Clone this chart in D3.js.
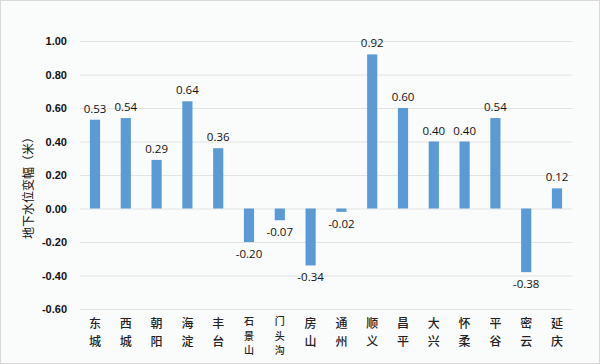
<!DOCTYPE html>
<html><head><meta charset="utf-8">
<script src="https://cdn.jsdelivr.net/npm/d3@7"></script>
<style>
html,body{margin:0;padding:0;background:#fff;}
svg{display:block;}
</style></head>
<body>
<svg id="c" width="600" height="364"></svg>
<script>
const categories = ["东城","西城","朝阳","海淀","丰台","石景山","门头沟","房山","通州","顺义","昌平","大兴","怀柔","平谷","密云","延庆"];
const values = [0.53,0.54,0.29,0.64,0.36,-0.20,-0.07,-0.34,-0.02,0.92,0.60,0.40,0.40,0.54,-0.38,0.12];
const yTicks = [-0.6,-0.4,-0.2,0,0.2,0.4,0.6,0.8,1.0];
const yTitle = "地下水位变幅（米）";

const fmt = d => (Math.round(d*100)/100).toFixed(2);

const svg = d3.select("#c");
svg.append("rect").attr("x",0.5).attr("y",0.5).attr("width",599).attr("height",363)
  .attr("fill","#fafbfb").attr("stroke","#d9d9d9");

const x = d3.scaleBand().domain(categories).range([79.6,572.4]).paddingInner(0.67).paddingOuter(0.335);
const y = d3.scaleLinear().domain([-0.6,1.0]).range([309,41]);

// gridlines
const grid = svg.append("g")
  .attr("transform","translate(79.6,0)")
  .call(d3.axisLeft(y).tickValues(yTicks).tickSize(-(572.4-79.6)).tickFormat(""));
grid.select(".domain").remove();
grid.selectAll("line").attr("stroke","#e3e3e3").attr("stroke-width",1);

// y tick labels
const yAxis = svg.append("g").attr("transform","translate(67,0)")
  .call(d3.axisLeft(y).tickValues(yTicks).tickSize(0).tickPadding(0).tickFormat(fmt));
yAxis.select(".domain").remove();
yAxis.selectAll("text").attr("font-family","'Liberation Sans', Arial, sans-serif")
  .attr("font-size","11px").attr("font-weight","bold").attr("fill","#111");

// bars
svg.append("g").selectAll("rect").data(values).join("rect")
  .attr("x",(d,i)=>x(categories[i]))
  .attr("width",x.bandwidth())
  .attr("y",d=>y(Math.max(0,d)))
  .attr("height",d=>Math.abs(y(d)-y(0)))
  .attr("fill","#5b9bd5");

// value labels
svg.append("g").selectAll("text").data(values).join("text")
  .attr("x",(d,i)=>x(categories[i])+x.bandwidth()/2)
  .attr("y",d=> d>=0 ? y(d)-7 : y(d)+16)
  .attr("text-anchor","middle")
  .attr("font-family","'Open Sans', 'DejaVu Sans', sans-serif")
  .attr("font-size","11.5px").attr("fill","#111")
  .text(fmt);

// category labels (vertical, one text per character)
const catG = svg.append("g");
categories.forEach(d=>{
  const chars = Array.from(d);
  const three = chars.length===3;
  const ys = three ? [325,339.5,354] : [328,346];
  chars.forEach((c,i)=>{
    catG.append("text")
      .attr("x",x(d)+x.bandwidth()/2).attr("y",ys[i])
      .attr("text-anchor","middle")
      .attr("font-family","'Noto Sans CJK SC', sans-serif")
      .attr("font-weight","500").attr("fill","#222")
      .attr("font-size", three ? "10px" : "12px")
      .text(c);
  });
});

// y title
svg.append("text").attr("transform","translate(33,185) rotate(-90)")
  .attr("text-anchor","middle")
  .attr("font-family","'Noto Sans CJK SC', sans-serif")
  .attr("font-size","12px").attr("fill","#111")
  .text(yTitle);
</script>
</body></html>
